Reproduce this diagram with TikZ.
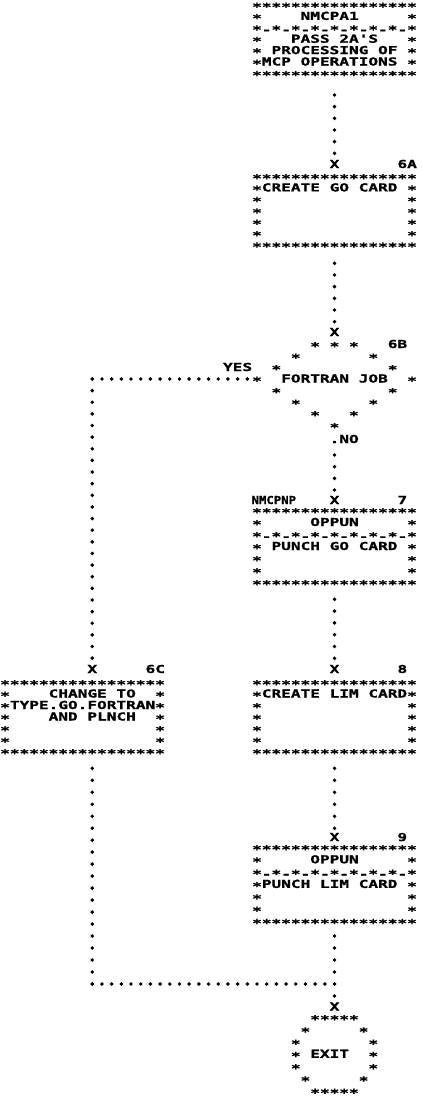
\documentclass[tikz,border=0pt]{standalone}
\usepackage{fontspec}
\newfontfamily\pf[FakeStretch=1.463,FakeBold=1.2]{DejaVu Sans Mono Bold}
\newfontfamily\pfn[FakeStretch=1.12,FakeBold=1.2]{DejaVu Sans Mono Bold}
\newcommand\pfont{\pf\fontsize{11}{11}\selectfont\spaceskip=9.69pt\relax\xspaceskip=9.69pt\relax}
\newcommand\pfontn{\pfn\fontsize{11}{11}\selectfont}
\newcommand\X[1]{(257+9.69*(#1))}
\tikzset{
  tx/.style={anchor=base west, inner sep=0pt, outer sep=0pt, xshift=-4.845pt, yshift=-4pt, font=\pfont},
  as/.style={tx, yshift=-2.3pt},
  dots/.style={line width=3.9pt, line cap=round, dash pattern=on 0pt off #1},
}
\newcommand\sides[4]{\node[as] (#1l) at ({\X{#2}},#4) {*};\node[as] (#1r) at ({\X{#3}},#4) {*};}
\begin{document}
\begin{tikzpicture}[x=1pt,y=-1pt]
\path[fill=white,use as bounding box] (0,0) rectangle (422,1100);
% ---------- box 1
\node[as] (b1top) at ({\X{0}},4.5) {*****************};
\sides{b1s1}{0}{16}{15.9} \node[tx] (b1name) at ({\X{5}},15.9) {NMCPA1};
\node[as] (b1sep) at ({\X{0}},27.3) {*-*-*-*-*-*-*-*-*};
\sides{b1s3}{0}{16}{38.7} \node[tx] (b1t1) at ({\X{4}},38.7) {PASS 2A'S};
\sides{b1s4}{0}{16}{50.1} \node[tx] (b1t2) at ({\X{2}},50.1) {PROCESSING OF};
\sides{b1s5}{0}{16}{61.5} \node[tx] (b1t3) at ({\X{1}},61.5) {MCP OPERATIONS};
\node[as] (b1bot) at ({\X{0}},72.9) {*****************};
% ---------- box 6A
\node[tx] (x6a) at ({\X{8}},164) {X};
\node[tx] (l6a) at ({\X{15}},164) {6A};
\node[as] (b6atop) at ({\X{0}},176) {*****************};
\sides{b6as1}{0}{16}{187.4} \node[tx] (b6at1) at ({\X{1}},187.4) {CREATE GO CARD};
\sides{b6as2}{0}{16}{198.8}
\sides{b6as3}{0}{16}{210.2}
\sides{b6as4}{0}{16}{221.6}
\sides{b6as5}{0}{16}{233}
\node[as] (b6abot) at ({\X{0}},244.4) {*****************};
% ---------- decision 6B
\node[tx] (x6b) at ({\X{8}},332) {X};
\node[tx] (l6b) at ({\X{14}},344) {6B};
\node[as] (d0) at ({\X{6}},344) {* * *};
\sides{d1}{4}{12}{355.5}
\sides{d2}{2}{14}{367} \node[tx] (yes) at ({\X{-3}},367) {YES};
\sides{d3}{0}{16}{378.5} \node[tx] (fj) at ({\X{3}},378.5) {FORTRAN JOB};
\sides{d4}{2}{14}{390}
\sides{d5}{4}{12}{401.5}
\sides{d6}{6}{10}{413}
\node[as] (d7) at ({\X{8}},425) {*};
\node[tx] (no) at ({\X{8}},439) {.NO};
% ---------- box 7
\node[tx, font=\pfontn, xshift=1.1pt] (nmcpnp) at (255.3,500) {NMCPNP};
\node[tx] (x7) at ({\X{8}},500) {X};
\node[tx] (l7) at ({\X{15}},500) {7};
\node[as] (b7top) at ({\X{0}},510) {*****************};
\sides{b7s1}{0}{16}{522} \node[tx] (b7t1) at ({\X{6}},522) {OPPUN};
\node[as] (b7sep) at ({\X{0}},534) {*-*-*-*-*-*-*-*-*};
\sides{b7s3}{0}{16}{546} \node[tx] (b7t2) at ({\X{2}},546) {PUNCH GO CARD};
\sides{b7s4}{0}{16}{558}
\sides{b7s5}{0}{16}{570}
\node[as] (b7bot) at ({\X{0}},582) {*****************};
% ---------- box 8
\node[tx] (x8) at ({\X{8}},669) {X};
\node[tx] (l8) at ({\X{15}},669) {8};
\node[as] (b8top) at ({\X{0}},682) {*****************};
\sides{b8s1}{0}{16}{693.5} \node[tx] (b8t1) at ({\X{1}},693.5) {CREATE LIM CARD};
\sides{b8s2}{0}{16}{705}
\sides{b8s3}{0}{16}{716.5}
\sides{b8s4}{0}{16}{728}
\sides{b8s5}{0}{16}{739.5}
\node[as] (b8bot) at ({\X{0}},751) {*****************};
% ---------- box 6C
\node[tx] (x6c) at ({\X{-17}},669) {X};
\node[tx] (l6c) at ({\X{-11}},669) {6C};
\node[as] (b6ctop) at ({\X{-26}},682) {*****************};
\sides{b6cs1}{-26}{-10}{693.5} \node[tx] (b6ct1) at ({\X{-21}},693.5) {CHANGE TO};
\sides{b6cs2}{-26}{-10}{705} \node[tx] (b6ct2) at ({\X{-25}},705) {TYPE.GO.FORTRAN};
\sides{b6cs3}{-26}{-10}{716.5} \node[tx] (b6ct3) at ({\X{-21}},716.5) {AND PLNCH};
\sides{b6cs4}{-26}{-10}{728}
\sides{b6cs5}{-26}{-10}{739.5}
\node[as] (b6cbot) at ({\X{-26}},751) {*****************};
% ---------- box 9
\node[tx] (x9) at ({\X{8}},837) {X};
\node[tx] (l9) at ({\X{15}},837) {9};
\node[as] (b9top) at ({\X{0}},847) {*****************};
\sides{b9s1}{0}{16}{859.3} \node[tx] (b9t1) at ({\X{6}},859.3) {OPPUN};
\node[as] (b9sep) at ({\X{0}},871.6) {*-*-*-*-*-*-*-*-*};
\sides{b9s3}{0}{16}{883.9} \node[tx] (b9t2) at ({\X{1}},883.9) {PUNCH LIM CARD};
\sides{b9s4}{0}{16}{896.2}
\sides{b9s5}{0}{16}{908.5}
\node[as] (b9bot) at ({\X{0}},920.8) {*****************};
% ---------- exit
\node[tx] (xex) at ({\X{8}},1006.5) {X};
\node[as] (e0) at ({\X{6}},1017) {*****};
\sides{e1}{5}{11}{1029.25}
\sides{e2}{4}{12}{1041.5}
\sides{e3}{4}{12}{1053.75} \node[tx] (exit) at ({\X{6}},1053.75) {EXIT};
\sides{e4}{4}{12}{1066}
\sides{e5}{5}{11}{1078.25}
\node[as] (e6) at ({\X{6}},1090.5) {*****};
% ---------- connectors
\coordinate (a0) at ({\X{8}},95);      \coordinate (a1) at ({\X{8}},153.8);
\coordinate (c0) at ({\X{8}},263.3);   \coordinate (c1) at ({\X{8}},322.2);
\coordinate (n0) at ({\X{8}},455);     \coordinate (n1) at ({\X{8}},490.5);
\coordinate (p0) at ({\X{8}},599.3);   \coordinate (p1) at ({\X{8}},658.8);
\coordinate (q0) at ({\X{8}},768.3);   \coordinate (q1) at ({\X{8}},828.8);
\coordinate (r0) at ({\X{8}},936);     \coordinate (r1) at ({\X{8}},996.5);
\coordinate (ycorner) at ({\X{-17}},379);
\coordinate (yend) at ({\X{-1}+0.5},379);
\coordinate (l1) at ({\X{-17}},658.8);
\coordinate (l2) at ({\X{-17}},768.3);
\coordinate (lcorner) at ({\X{-17}},984);
\coordinate (jn) at ({\X{8}+0.5},984);
\draw[dots=11.66pt] (a0) -- (a1);
\draw[dots=11.68pt] (c0) -- (c1);
\draw[dots=11.67pt] (n0) -- (n1);
\draw[dots=11.8pt] (p0) -- (p1);
\draw[dots=12pt] (q0) -- (q1);
\draw[dots=12pt] (r0) -- (r1);
\draw[dots=9.69pt] (ycorner) -- (yend);
\draw[dots=11.63pt] (ycorner) -- (l1);
\draw[dots=11.98pt] (l2) -- (lcorner);
\draw[dots=9.69pt] (lcorner) -- (jn);
\end{tikzpicture}
\end{document}
